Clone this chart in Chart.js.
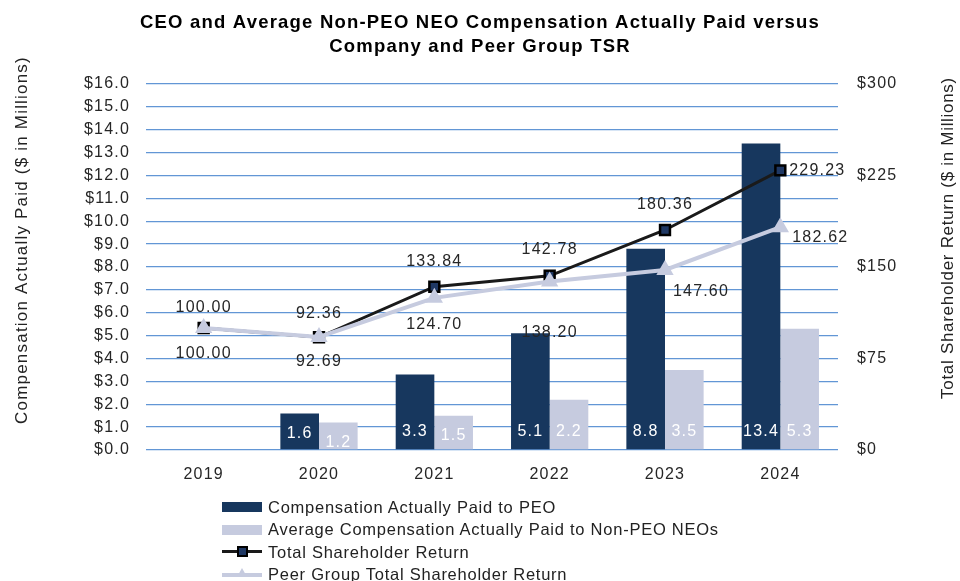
<!DOCTYPE html>
<html>
<head>
<meta charset="utf-8">
<script src="https://cdn.jsdelivr.net/npm/chart.js@4.4.1/dist/chart.umd.min.js"></script>
<style>
    body { margin: 0; background: #fff; font-family: 'Liberation Sans', Arial, sans-serif; }
    #wrap { position: relative; width: 960px; height: 581px; }
    #legend { position: absolute; left: 222px; top: 496px; font-size: 16.5px; letter-spacing: 0.75px; color: #222; }
    .item { height: 22.5px; display: flex; align-items: center; white-space: nowrap; }
    .sw { width: 40px; height: 20px; position: relative; margin-right: 6px; }
    .box { position: absolute; left: 0; top: 5px; width: 40px; height: 10px; }
    .ln { position: absolute; left: 0; top: 8px; width: 40px; height: 3px; }
    .sq { position: absolute; left: 15px; top: 4px; width: 7px; height: 7px; background: #1f3864; border: 2px solid #000; }
    .tri { position: absolute; left: 15px; top: 3px; width: 0; height: 0; border-left: 5px solid transparent; border-right: 5px solid transparent; border-bottom: 9px solid #c6cbdf; }
</style>
</head>
<body>
<div id="wrap">
    <canvas id="chart" width="960" height="581"></canvas>
    <div id="legend">
        <div class="item"><span class="sw"><span class="box" style="background:#17375e"></span></span>Compensation Actually Paid to PEO</div>
        <div class="item"><span class="sw"><span class="box" style="background:#c6cbdf"></span></span>Average Compensation Actually Paid to Non-PEO NEOs</div>
        <div class="item"><span class="sw"><span class="ln" style="background:#1a1a1a"></span><span class="sq"></span></span>Total Shareholder Return</div>
        <div class="item"><span class="sw"><span class="ln" style="background:#c6cbdf;height:4px"></span><span class="tri"></span></span>Peer Group Total Shareholder Return</div>
    </div>
</div>
<script>
// --- Data ---
const years = ['2019', '2020', '2021', '2022', '2023', '2024'];
const peoPaid = [null, 1.6, 3.3, 5.1, 8.8, 13.4];
const neoPaid = [null, 1.2, 1.5, 2.2, 3.5, 5.3];
const companyTsr = [100.00, 92.36, 133.84, 142.78, 180.36, 229.23];
const peerTsr = [100.00, 92.69, 124.70, 138.20, 147.60, 182.62];

// label offsets (px, relative to the point)
const tsrLabelShift = [[0, -20], [0, -24], [0, -25], [0, -26], [0, -25], [37, 0]];
const peerLabelShift = [[0, 26], [0, 25], [0, 27], [0, 51], [36, 22], [40, 10]];

const FONT = "'Liberation Sans', Arial, sans-serif";
const NAVY = '#17375e';
const LAV = '#c6cbdf';

// the source text is a bit wider than Liberation Sans; loosen it a little
const spacingPlugin = {
    id: 'spacing',
    beforeUpdate(chart) { chart.ctx.letterSpacing = '1.2px'; },
    beforeDraw(chart) { chart.ctx.letterSpacing = '1.2px'; }
};

// --- Labels + axis titles plugin ---
const labelPlugin = {
    id: 'labels',
    afterDatasetsDraw(chart) {
        const ctx = chart.ctx;
        ctx.save();
        ctx.font = '16px ' + FONT;
        ctx.textAlign = 'center';
        ctx.textBaseline = 'middle';

        // bar values, white, near the base
        [0, 1].forEach(di => {
            const meta = chart.getDatasetMeta(di);
            const vals = chart.data.datasets[di].data;
            meta.data.forEach((el, i) => {
                if (vals[i] == null) return;
                ctx.fillStyle = '#fff';
                const y = Math.max(432, el.y + 20);
                ctx.fillText(vals[i].toFixed(1), el.x, y);
            });
        });

        // line values
        [[2, tsrLabelShift], [3, peerLabelShift]].forEach(([di, shift]) => {
            const meta = chart.getDatasetMeta(di);
            const vals = chart.data.datasets[di].data;
            meta.data.forEach((el, i) => {
                ctx.fillStyle = '#262626';
                ctx.fillText(vals[i].toFixed(2), el.x + shift[i][0], el.y + shift[i][1]);
            });
        });

        // axis titles (both read bottom-to-top)
        ctx.font = '17px ' + FONT;
        ctx.fillStyle = '#222';
        ctx.save();
        ctx.translate(22, 240);
        ctx.rotate(-Math.PI / 2);
        ctx.fillText('Compensation Actually Paid ($ in Millions)', 0, 0);
        ctx.restore();
        ctx.save();
        ctx.letterSpacing = '0.7px';
        ctx.translate(948, 238);
        ctx.rotate(-Math.PI / 2);
        ctx.fillText('Total Shareholder Return ($ in Millions)', 0, 0);
        ctx.restore();
        ctx.restore();
    }
};

// --- Chart ---
const ctx = document.getElementById('chart').getContext('2d');
new Chart(ctx, {
    data: {
        labels: years,
        datasets: [
            {
                type: 'bar',
                label: 'Compensation Actually Paid to PEO',
                data: peoPaid,
                backgroundColor: NAVY,
                yAxisID: 'y',
                order: 2,
                categoryPercentage: 0.67,
                barPercentage: 1.0
            },
            {
                type: 'bar',
                label: 'Average Compensation Actually Paid to Non-PEO NEOs',
                data: neoPaid,
                backgroundColor: LAV,
                yAxisID: 'y',
                order: 3,
                categoryPercentage: 0.67,
                barPercentage: 1.0
            },
            {
                type: 'line',
                label: 'Total Shareholder Return',
                data: companyTsr,
                borderColor: '#1a1a1a',
                borderWidth: 3,
                pointStyle: 'rect',
                pointRadius: 7,
                pointBackgroundColor: '#1f3864',
                pointBorderColor: '#000',
                pointBorderWidth: 2.5,
                yAxisID: 'y1',
                order: 1,
                tension: 0
            },
            {
                type: 'line',
                label: 'Peer Group Total Shareholder Return',
                data: peerTsr,
                borderColor: LAV,
                borderWidth: 4,
                pointStyle: 'triangle',
                pointRadius: 6,
                pointBackgroundColor: LAV,
                pointBorderColor: LAV,
                yAxisID: 'y1',
                order: 0,
                tension: 0
            }
        ]
    },
    options: {
        responsive: false,
        animation: false,
        layout: { padding: 0 },
        plugins: {
            legend: { display: false },
            tooltip: { enabled: false },
            title: {
                display: true,
                text: ['CEO and Average Non-PEO NEO Compensation Actually Paid versus', 'Company and Peer Group TSR'],
                font: { family: FONT, size: 18.5, weight: 'bold', lineHeight: '24px' },
                color: '#000',
                padding: { top: 11, bottom: 25 }
            }
        },
        scales: {
            x: {
                grid: { display: false },
                border: { display: false },
                ticks: { color: '#262626', font: { family: FONT, size: 16 }, padding: 7 },
                afterFit: s => { s.height = 131; }
            },
            y: {
                position: 'left',
                min: 0,
                max: 16,
                ticks: {
                    stepSize: 1,
                    color: '#262626',
                    font: { family: FONT, size: 16 },
                    padding: 16,
                    callback: v => '$' + v.toFixed(1)
                },
                grid: { color: '#6296d5', lineWidth: 1.3, drawTicks: false },
                border: { display: false },
                afterFit: s => { s.width = 146; }
            },
            y1: {
                position: 'right',
                min: 0,
                max: 300,
                ticks: {
                    stepSize: 75,
                    color: '#262626',
                    font: { family: FONT, size: 16 },
                    padding: 19,
                    callback: v => '$' + v
                },
                grid: { display: false, drawTicks: false },
                border: { display: false },
                afterFit: s => { s.width = 122; }
            }
        }
    },
    plugins: [spacingPlugin, labelPlugin]
});
</script>
</body>
</html>
